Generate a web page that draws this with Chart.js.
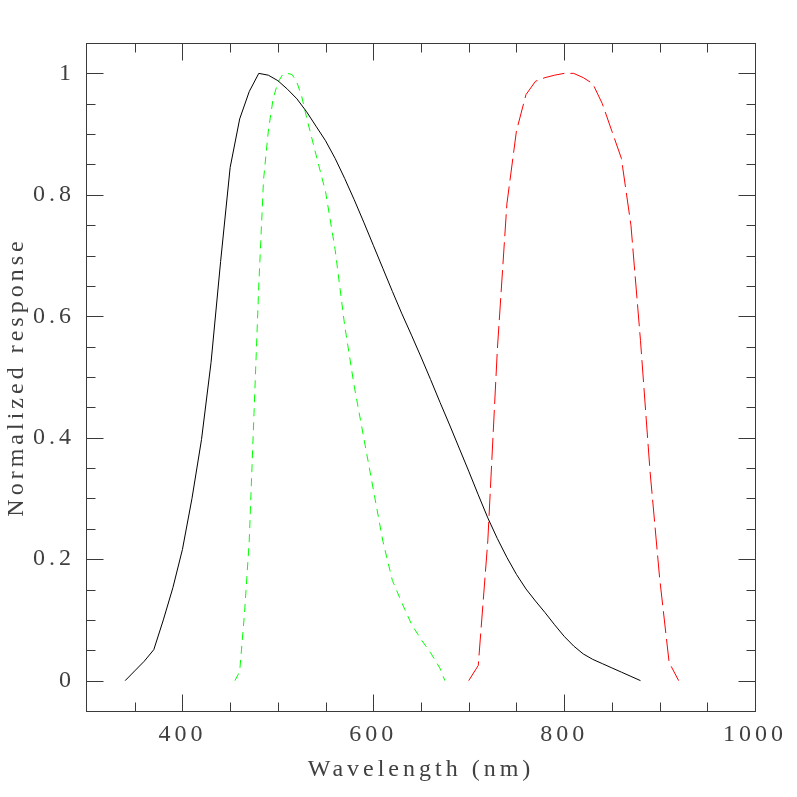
<!DOCTYPE html>
<html>
<head>
<meta charset="utf-8">
<script src="https://cdn.jsdelivr.net/npm/chart.js@4.4.0/dist/chart.umd.min.js"></script>
<style>
  html, body { margin: 0; padding: 0; background: #ffffff; }
  #wrap { width: 797px; height: 797px; }
</style>
</head>
<body>
<div id="wrap"><canvas id="c" width="797" height="797"></canvas></div>
<script>
// ---- Data ----
const blackWavelengths = [340, 350, 360, 370, 380, 390, 400, 410, 420, 430, 440, 450, 460, 470, 480, 490, 500, 510, 520, 530, 540, 550, 560, 570, 580, 590, 600, 610, 620, 630, 640, 650, 660, 670, 680, 690, 700, 710, 720, 730, 740, 750, 760, 770, 780, 790, 800, 810, 820, 830, 840, 850, 860, 870, 880];
const blackResponse = [0.000, 0.016, 0.032, 0.051, 0.100, 0.153, 0.216, 0.300, 0.397, 0.524, 0.690, 0.845, 0.925, 0.970, 1.000, 0.997, 0.988, 0.974, 0.958, 0.937, 0.913, 0.889, 0.860, 0.827, 0.792, 0.755, 0.717, 0.679, 0.641, 0.604, 0.569, 0.533, 0.496, 0.458, 0.421, 0.383, 0.345, 0.306, 0.268, 0.234, 0.203, 0.175, 0.151, 0.131, 0.112, 0.092, 0.073, 0.057, 0.044, 0.035, 0.028, 0.021, 0.014, 0.007, 0.000];

const greenWavelengths = [455, 460, 465, 470, 475, 480, 485, 490, 495, 500, 505, 510, 515, 520, 525, 530, 540, 550, 560, 570, 580, 590, 600, 610, 620, 630, 640, 650, 660, 670, 675];
const greenResponse = [0.000, 0.015, 0.110, 0.230, 0.440, 0.650, 0.825, 0.905, 0.958, 0.985, 0.998, 1.000, 0.998, 0.985, 0.962, 0.928, 0.866, 0.805, 0.710, 0.585, 0.485, 0.400, 0.315, 0.230, 0.165, 0.128, 0.093, 0.068, 0.046, 0.020, 0.000];

const redWavelengths = [700, 710, 720, 730, 740, 750, 760, 770, 780, 790, 800, 810, 820, 830, 840, 850, 860, 870, 880, 890, 900, 910, 920];
const redResponse = [0.000, 0.025, 0.230, 0.545, 0.785, 0.905, 0.965, 0.987, 0.993, 0.997, 1.000, 1.000, 0.993, 0.983, 0.950, 0.905, 0.860, 0.750, 0.560, 0.345, 0.170, 0.030, 0.000];

const xTickLabels = [400, 600, 800, 1000];
const yTickLabels = [0, 0.2, 0.4, 0.6, 0.8, 1];
const xMajorTicks = [400, 600, 800];
const yMajorTicks = [0, 0.2, 0.4, 0.6, 0.8, 1];
const xMinorStep = 50;
const yMinorStep = 0.05;
const xRange = [300, 1000];
const yRange = [-0.05, 1.05];
const xTitle = 'Wavelength (nm)';
const yTitle = 'Normalized response';

function toPoints(xs, ys) { return xs.map((x, i) => ({ x: x, y: ys[i] })); }

const FONT = "'Liberation Serif', serif";
const TEXT = '#404040';
const AXIS = '#3a3a3a';

const framePlugin = {
  id: 'frame',
  beforeDraw(chart) { chart.ctx.letterSpacing = '4px'; },
  afterDraw(chart) {
    const { ctx, chartArea: a, scales: { x, y } } = chart;
    ctx.save();
    ctx.strokeStyle = AXIS;
    ctx.lineWidth = 1;
    const L = a.left - 0.5, R = a.right + 0.5, T = a.top + 0.5, B = a.bottom + 0.5;
    ctx.beginPath();
    for (let k = 1; xRange[0] + k * xMinorStep < xRange[1] - 1e-6; k++) {
      const v = xRange[0] + k * xMinorStep;
      const px = Math.round(x.getPixelForValue(v)) + 0.5;
      const len = xMajorTicks.includes(v) ? 17 : 9;
      ctx.moveTo(px, B); ctx.lineTo(px, B - len);
      ctx.moveTo(px, T); ctx.lineTo(px, T + len);
    }
    for (let k = 1; yRange[0] + k * yMinorStep < yRange[1] - 1e-6; k++) {
      const v = Math.round((yRange[0] + k * yMinorStep) * 100) / 100;
      const py = Math.round(y.getPixelForValue(v)) + 0.5;
      const len = yMajorTicks.includes(v) ? 17 : 9;
      ctx.moveTo(L, py); ctx.lineTo(L + len, py);
      ctx.moveTo(R, py); ctx.lineTo(R - len, py);
    }
    ctx.stroke();
    ctx.strokeRect(L, T, R - L, B - T);
    ctx.restore();
  }
};

new Chart(document.getElementById('c'), {
  type: 'line',
  data: {
    datasets: [
      { data: toPoints(blackWavelengths, blackResponse), borderColor: '#000000', borderWidth: 1, pointRadius: 0, tension: 0, fill: false },
      { data: toPoints(greenWavelengths, greenResponse), borderColor: '#00ff00', borderWidth: 1, borderDash: [8, 6], pointRadius: 0, tension: 0, fill: false },
      { data: toPoints(redWavelengths, redResponse), borderColor: '#ff0000', borderWidth: 1, borderDash: [22, 6], pointRadius: 0, tension: 0, fill: false }
    ]
  },
  options: {
    responsive: false,
    animation: false,
    devicePixelRatio: 1,
    layout: { padding: { top: 43, right: 42, left: 0, bottom: 0 } },
    plugins: { legend: { display: false }, tooltip: { enabled: false } },
    scales: {
      x: {
        type: 'linear',
        min: xRange[0], max: xRange[1],
        afterBuildTicks: (s) => { s.ticks = xTickLabels.map(v => ({ value: v })); },
        afterFit: (s) => { s.height = 86; },
        grid: { display: false, drawTicks: false },
        border: { display: false },
        ticks: { padding: 9, color: TEXT, font: { family: FONT, size: 24 }, maxRotation: 0, autoSkip: false, callback: (v) => String(v) },
        title: { display: true, text: xTitle, color: TEXT, font: { family: FONT, size: 24 }, padding: { top: 0, bottom: 13 } }
      },
      y: {
        type: 'linear',
        min: yRange[0], max: yRange[1],
        afterBuildTicks: (s) => { s.ticks = yTickLabels.map(v => ({ value: v })); },
        afterFit: (s) => { s.width = 87; },
        grid: { display: false, drawTicks: false },
        border: { display: false },
        ticks: { padding: 12, color: TEXT, font: { family: FONT, size: 24 }, autoSkip: false, callback: (v) => String(v) },
        title: { display: true, text: yTitle, color: TEXT, font: { family: FONT, size: 24 }, padding: { top: 2, bottom: 0 } }
      }
    }
  },
  plugins: [framePlugin]
});
</script>
</body>
</html>
